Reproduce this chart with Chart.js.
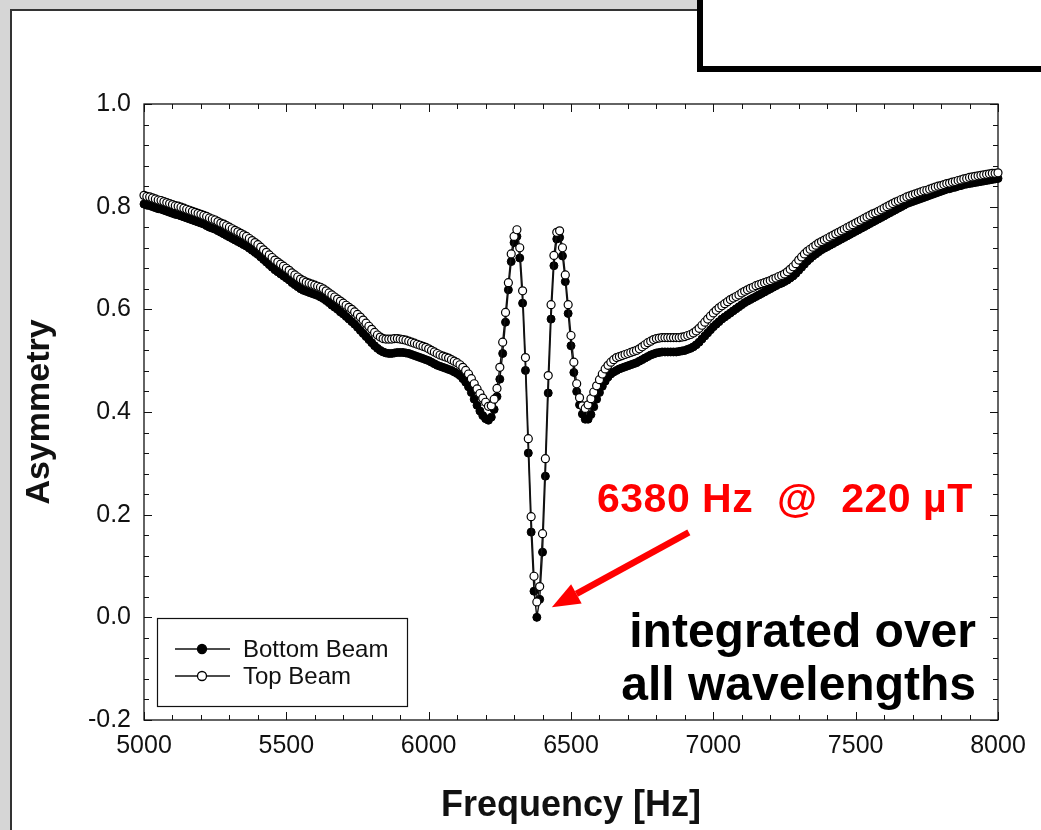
<!DOCTYPE html>
<html>
<head>
<meta charset="utf-8">
<script src="https://cdn.jsdelivr.net/npm/chart.js@4.4.1/dist/chart.umd.min.js"></script>
<style>
  html, body { margin: 0; padding: 0; }
  body {
    width: 1041px; height: 830px; position: relative; overflow: hidden;
    background: #d6d6d6;
    font-family: "Liberation Sans", Arial, sans-serif;
  }
  #panel {
    position: absolute; left: 10px; top: 9px; width: 1100px; height: 900px;
    background: #fff; border: 2px solid #333;
  }
  #infobox {
    position: absolute; left: 697px; top: -20px; width: 400px; height: 80px;
    background: #fff; border: 6px solid #000;
  }
  #chart { position: absolute; left: 0; top: 0; }
  .note { position: absolute; font-weight: bold; white-space: pre; }
  #freqNote { left: 597px; top: 478px; color: #ff0000; font-size: 41px; line-height: 41px; letter-spacing: 0.5px; }
  #intNote { right: 65px; top: 604px; color: #000; font-size: 48px; line-height: 53px; text-align: right; }
</style>
</head>
<body>
<div id="panel"></div>
<div id="infobox"></div>
<canvas id="chart" width="1041" height="830"></canvas>
<div class="note" id="freqNote">6380 Hz  @  220 µT</div>
<div class="note" id="intNote">integrated over
all wavelengths</div>
<script>
// sweep frequencies (Hz)
const frequencies = [
  5000, 5010, 5020, 5030, 5040, 5050, 5060, 5070, 5080, 5090,
  5100, 5110, 5120, 5130, 5140, 5150, 5160, 5170, 5180, 5190,
  5200, 5210, 5220, 5230, 5240, 5250, 5260, 5270, 5280, 5290,
  5300, 5310, 5320, 5330, 5340, 5350, 5360, 5370, 5380, 5390,
  5400, 5410, 5420, 5430, 5440, 5450, 5460, 5470, 5480, 5490,
  5500, 5510, 5520, 5530, 5540, 5550, 5560, 5570, 5580, 5590,
  5600, 5610, 5620, 5630, 5640, 5650, 5660, 5670, 5680, 5690,
  5700, 5710, 5720, 5730, 5740, 5750, 5760, 5770, 5780, 5790,
  5800, 5810, 5820, 5830, 5840, 5850, 5860, 5870, 5880, 5890,
  5900, 5910, 5920, 5930, 5940, 5950, 5960, 5970, 5980, 5990,
  6000, 6010, 6020, 6030, 6040, 6050, 6060, 6070, 6080, 6090,
  6100, 6110, 6120, 6130, 6140, 6150, 6160, 6170, 6180, 6190,
  6200, 6210, 6220, 6230, 6240, 6250, 6260, 6270, 6280, 6290,
  6300, 6310, 6320, 6330, 6340, 6350, 6360, 6370, 6380, 6390,
  6400, 6410, 6420, 6430, 6440, 6450, 6460, 6470, 6480, 6490,
  6500, 6510, 6520, 6530, 6540, 6550, 6560, 6570, 6580, 6590,
  6600, 6610, 6620, 6630, 6640, 6650, 6660, 6670, 6680, 6690,
  6700, 6710, 6720, 6730, 6740, 6750, 6760, 6770, 6780, 6790,
  6800, 6810, 6820, 6830, 6840, 6850, 6860, 6870, 6880, 6890,
  6900, 6910, 6920, 6930, 6940, 6950, 6960, 6970, 6980, 6990,
  7000, 7010, 7020, 7030, 7040, 7050, 7060, 7070, 7080, 7090,
  7100, 7110, 7120, 7130, 7140, 7150, 7160, 7170, 7180, 7190,
  7200, 7210, 7220, 7230, 7240, 7250, 7260, 7270, 7280, 7290,
  7300, 7310, 7320, 7330, 7340, 7350, 7360, 7370, 7380, 7390,
  7400, 7410, 7420, 7430, 7440, 7450, 7460, 7470, 7480, 7490,
  7500, 7510, 7520, 7530, 7540, 7550, 7560, 7570, 7580, 7590,
  7600, 7610, 7620, 7630, 7640, 7650, 7660, 7670, 7680, 7690,
  7700, 7710, 7720, 7730, 7740, 7750, 7760, 7770, 7780, 7790,
  7800, 7810, 7820, 7830, 7840, 7850, 7860, 7870, 7880, 7890,
  7900, 7910, 7920, 7930, 7940, 7950, 7960, 7970, 7980, 7990,
  8000
];

// asymmetry, bottom beam (filled markers)
const bottomBeam = [
  0.805, 0.803, 0.802, 0.800, 0.798, 0.796, 0.795, 0.793, 0.791, 0.789,
  0.787, 0.785, 0.784, 0.782, 0.780, 0.778, 0.776, 0.774, 0.772, 0.770,
  0.768, 0.766, 0.763, 0.760, 0.758, 0.756, 0.753, 0.750, 0.747, 0.744,
  0.741, 0.738, 0.735, 0.732, 0.729, 0.726, 0.723, 0.719, 0.715, 0.711,
  0.707, 0.702, 0.697, 0.692, 0.687, 0.682, 0.677, 0.673, 0.669, 0.665,
  0.661, 0.657, 0.652, 0.648, 0.644, 0.640, 0.637, 0.635, 0.633, 0.631,
  0.629, 0.627, 0.624, 0.621, 0.617, 0.613, 0.608, 0.604, 0.600, 0.595,
  0.591, 0.586, 0.581, 0.576, 0.571, 0.565, 0.559, 0.553, 0.547, 0.541,
  0.535, 0.529, 0.524, 0.520, 0.517, 0.515, 0.514, 0.514, 0.515, 0.516,
  0.516, 0.516, 0.515, 0.514, 0.512, 0.510, 0.508, 0.506, 0.504, 0.502,
  0.500, 0.497, 0.494, 0.491, 0.489, 0.487, 0.485, 0.483, 0.481, 0.478,
  0.475, 0.471, 0.465, 0.458, 0.449, 0.438, 0.425, 0.413, 0.402, 0.393,
  0.387, 0.384, 0.390, 0.405, 0.430, 0.464, 0.514, 0.575, 0.638, 0.693,
  0.730, 0.742, 0.700, 0.612, 0.481, 0.320, 0.166, 0.051, 0.000, 0.035,
  0.127, 0.275, 0.437, 0.581, 0.685, 0.737, 0.740, 0.704, 0.654, 0.592,
  0.529, 0.477, 0.440, 0.414, 0.396, 0.386, 0.386, 0.395, 0.410, 0.425,
  0.438, 0.450, 0.460, 0.468, 0.474, 0.478, 0.481, 0.484, 0.486, 0.488,
  0.490, 0.492, 0.494, 0.496, 0.499, 0.502, 0.505, 0.508, 0.511, 0.513,
  0.515, 0.516, 0.517, 0.517, 0.517, 0.517, 0.517, 0.517, 0.518, 0.519,
  0.520, 0.522, 0.524, 0.527, 0.531, 0.536, 0.542, 0.548, 0.554, 0.560,
  0.566, 0.571, 0.576, 0.581, 0.585, 0.589, 0.593, 0.597, 0.601, 0.605,
  0.609, 0.613, 0.616, 0.619, 0.622, 0.625, 0.628, 0.631, 0.634, 0.637,
  0.640, 0.643, 0.646, 0.649, 0.651, 0.654, 0.657, 0.661, 0.665, 0.670,
  0.676, 0.682, 0.688, 0.694, 0.699, 0.704, 0.708, 0.712, 0.716, 0.719,
  0.722, 0.725, 0.728, 0.731, 0.734, 0.737, 0.740, 0.743, 0.746, 0.749,
  0.752, 0.755, 0.758, 0.761, 0.764, 0.767, 0.770, 0.773, 0.776, 0.779,
  0.782, 0.785, 0.788, 0.791, 0.794, 0.797, 0.800, 0.803, 0.806, 0.808,
  0.810, 0.812, 0.814, 0.816, 0.818, 0.820, 0.822, 0.824, 0.826, 0.828,
  0.830, 0.832, 0.834, 0.835, 0.837, 0.838, 0.840, 0.841, 0.843, 0.844,
  0.845, 0.846, 0.847, 0.848, 0.849, 0.850, 0.851, 0.852, 0.853, 0.854,
  0.855
];

// asymmetry, top beam (open markers)
const topBeam = [
  0.822, 0.820, 0.819, 0.817, 0.815, 0.813, 0.812, 0.810, 0.808, 0.806,
  0.804, 0.802, 0.801, 0.799, 0.797, 0.795, 0.793, 0.791, 0.789, 0.787,
  0.785, 0.783, 0.781, 0.778, 0.776, 0.774, 0.771, 0.768, 0.766, 0.763,
  0.760, 0.757, 0.754, 0.751, 0.748, 0.745, 0.742, 0.738, 0.734, 0.730,
  0.726, 0.721, 0.716, 0.711, 0.706, 0.701, 0.696, 0.692, 0.688, 0.684,
  0.680, 0.676, 0.671, 0.667, 0.663, 0.659, 0.656, 0.653, 0.651, 0.649,
  0.647, 0.645, 0.643, 0.640, 0.636, 0.632, 0.628, 0.624, 0.620, 0.616,
  0.612, 0.608, 0.604, 0.600, 0.595, 0.590, 0.585, 0.579, 0.573, 0.567,
  0.561, 0.555, 0.550, 0.546, 0.543, 0.542, 0.542, 0.542, 0.543, 0.543,
  0.542, 0.541, 0.540, 0.538, 0.536, 0.534, 0.532, 0.530, 0.528, 0.526,
  0.523, 0.520, 0.517, 0.514, 0.511, 0.509, 0.507, 0.505, 0.502, 0.499,
  0.496, 0.492, 0.487, 0.481, 0.474, 0.465, 0.455, 0.445, 0.436, 0.427,
  0.419, 0.411, 0.412, 0.425, 0.446, 0.487, 0.536, 0.594, 0.652, 0.708,
  0.742, 0.755, 0.720, 0.636, 0.506, 0.348, 0.196, 0.080, 0.030, 0.060,
  0.163, 0.309, 0.471, 0.609, 0.705, 0.750, 0.753, 0.720, 0.667, 0.609,
  0.549, 0.497, 0.455, 0.428, 0.412, 0.407, 0.414, 0.426, 0.439, 0.451,
  0.463, 0.474, 0.484, 0.491, 0.497, 0.502, 0.506, 0.508, 0.510, 0.512,
  0.514, 0.516, 0.518, 0.520, 0.523, 0.527, 0.531, 0.535, 0.538, 0.541,
  0.543, 0.544, 0.545, 0.545, 0.545, 0.545, 0.545, 0.545, 0.545, 0.546,
  0.547, 0.549, 0.551, 0.554, 0.558, 0.563, 0.569, 0.575, 0.581, 0.587,
  0.593, 0.598, 0.603, 0.607, 0.611, 0.615, 0.619, 0.622, 0.625, 0.628,
  0.632, 0.635, 0.638, 0.641, 0.643, 0.646, 0.648, 0.650, 0.652, 0.654,
  0.656, 0.659, 0.661, 0.664, 0.666, 0.669, 0.673, 0.678, 0.683, 0.689,
  0.696, 0.702, 0.708, 0.713, 0.717, 0.721, 0.725, 0.729, 0.732, 0.735,
  0.738, 0.741, 0.744, 0.747, 0.750, 0.753, 0.756, 0.759, 0.762, 0.765,
  0.768, 0.771, 0.774, 0.777, 0.780, 0.783, 0.786, 0.788, 0.791, 0.794,
  0.797, 0.800, 0.803, 0.806, 0.809, 0.811, 0.814, 0.816, 0.819, 0.821,
  0.823, 0.825, 0.827, 0.829, 0.831, 0.832, 0.834, 0.836, 0.838, 0.840,
  0.841, 0.843, 0.845, 0.846, 0.848, 0.849, 0.851, 0.852, 0.854, 0.855,
  0.857, 0.858, 0.859, 0.860, 0.861, 0.862, 0.863, 0.864, 0.865, 0.865,
  0.866
];

const xTickValues = [5000, 5500, 6000, 6500, 7000, 7500, 8000];
const xTickLabels = ['5000', '5500', '6000', '6500', '7000', '7500', '8000'];
const yTickValues = [-0.2, 0.0, 0.2, 0.4, 0.6, 0.8, 1.0];
const yTickLabels = ['-0.2', '0.0', '0.2', '0.4', '0.6', '0.8', '1.0'];

// resonance marked by the arrow
const resonance = { freq: 6380, value: 0.0 };

const FONT = '"Liberation Sans", Arial, sans-serif';
const INK = '#111';

// box around the plot plus inward ticks on all four sides (SigmaPlot style)
const frameTicks = {
  id: 'frameTicks',
  beforeDatasetsDraw(chart) {
    const { ctx, chartArea: a, scales: { x, y } } = chart;
    ctx.save();
    ctx.strokeStyle = INK;
    ctx.lineWidth = 1.3;
    ctx.strokeRect(a.left, a.top, a.right - a.left, a.bottom - a.top);
    ctx.beginPath();
    for (let i = 0; i <= 30; i++) {
      const px = Math.round(x.getPixelForValue(5000 + i * 100)) + 0.5;
      const len = i % 5 === 0 ? 8 : 5;
      ctx.moveTo(px, a.bottom); ctx.lineTo(px, a.bottom - len);
      ctx.moveTo(px, a.top); ctx.lineTo(px, a.top + len);
    }
    for (let i = 0; i <= 30; i++) {
      const py = Math.round(y.getPixelForValue(-0.2 + i * 0.04)) + 0.5;
      const len = i % 5 === 0 ? 8 : 5;
      ctx.moveTo(a.left, py); ctx.lineTo(a.left + len, py);
      ctx.moveTo(a.right, py); ctx.lineTo(a.right - len, py);
    }
    ctx.lineWidth = 1;
    ctx.stroke();
    ctx.restore();
  }
};

// boxed legend in the lower-left corner of the plot
const boxLegend = {
  id: 'boxLegend',
  afterDraw(chart) {
    const { ctx, chartArea: a } = chart;
    const left = a.left + 13, top = a.bottom - 102, w = 250, h = 88;
    ctx.save();
    ctx.fillStyle = '#fff';
    ctx.fillRect(left, top, w, h);
    ctx.strokeStyle = INK;
    ctx.lineWidth = 1.2;
    ctx.strokeRect(left + 0.5, top + 0.5, w, h);
    ctx.font = '24px ' + FONT;
    ctx.textBaseline = 'middle';
    chart.data.datasets.forEach((ds, i) => {
      const cy = top + 31 + i * 27;
      ctx.beginPath();
      ctx.moveTo(left + 18, cy); ctx.lineTo(left + 73, cy);
      ctx.strokeStyle = ds.borderColor; ctx.lineWidth = 1.5; ctx.stroke();
      ctx.beginPath();
      ctx.arc(left + 45, cy, 4.5, 0, Math.PI * 2);
      ctx.fillStyle = ds.pointBackgroundColor; ctx.fill();
      ctx.lineWidth = 1.3; ctx.strokeStyle = ds.pointBorderColor; ctx.stroke();
      ctx.fillStyle = INK;
      ctx.fillText(ds.label, left + 86, cy + 1);
    });
    ctx.restore();
  }
};

// red arrow pointing at the resonance minimum
const resonanceArrow = {
  id: 'resonanceArrow',
  afterDraw(chart) {
    const { ctx, scales: { x, y } } = chart;
    const tipX = x.getPixelForValue(resonance.freq) + 15;
    const tipY = y.getPixelForValue(resonance.value) - 10;
    const tailX = tipX + 137, tailY = tipY - 75;
    const ang = Math.atan2(tailY - tipY, tailX - tipX);
    const headLen = 28, headHalf = 11;
    const bx = tipX + Math.cos(ang) * headLen, by = tipY + Math.sin(ang) * headLen;
    ctx.save();
    ctx.strokeStyle = '#ff0000';
    ctx.fillStyle = '#ff0000';
    ctx.lineWidth = 6.5;
    ctx.beginPath();
    ctx.moveTo(tailX, tailY); ctx.lineTo(bx, by);
    ctx.stroke();
    ctx.beginPath();
    ctx.moveTo(tipX, tipY);
    ctx.lineTo(bx - Math.sin(ang) * headHalf, by + Math.cos(ang) * headHalf);
    ctx.lineTo(bx + Math.sin(ang) * headHalf, by - Math.cos(ang) * headHalf);
    ctx.closePath();
    ctx.fill();
    ctx.restore();
  }
};

const toPoints = (vals) => frequencies.map((f, i) => ({ x: f, y: vals[i] }));

new Chart(document.getElementById('chart').getContext('2d'), {
  type: 'scatter',
  data: {
    datasets: [
      {
        label: 'Bottom Beam',
        data: toPoints(bottomBeam),
        showLine: true,
        borderColor: INK,
        borderWidth: 1.4,
        pointRadius: 4,
        pointBackgroundColor: '#000',
        pointBorderColor: '#000',
        pointBorderWidth: 1,
        order: 1,
        clip: false
      },
      {
        label: 'Top Beam',
        data: toPoints(topBeam),
        showLine: true,
        borderColor: INK,
        borderWidth: 1.4,
        pointRadius: 4,
        pointBackgroundColor: '#fff',
        pointBorderColor: '#000',
        pointBorderWidth: 1.2,
        order: 0,
        clip: false
      }
    ]
  },
  options: {
    responsive: false,
    animation: false,
    devicePixelRatio: 1,
    layout: { padding: { left: 0, right: 43, top: 104, bottom: 0 } },
    plugins: {
      legend: { display: false },
      tooltip: { enabled: false }
    },
    scales: {
      x: {
        type: 'linear',
        min: 5000,
        max: 8000,
        afterBuildTicks: (s) => { s.ticks = xTickValues.map(v => ({ value: v })); },
        afterFit: (s) => { s.height = 110; },
        grid: { display: false, drawTicks: false },
        border: { display: false },
        ticks: {
          padding: 11,
          color: INK,
          autoSkip: false,
          maxRotation: 0,
          font: { family: FONT, size: 25 },
          callback: (v, i) => xTickLabels[i]
        },
        title: {
          display: true,
          text: 'Frequency [Hz]',
          color: INK,
          font: { family: FONT, size: 36, weight: 'bold' },
          padding: { top: 0, bottom: 2 }
        }
      },
      y: {
        type: 'linear',
        min: -0.2,
        max: 1.0,
        afterBuildTicks: (s) => { s.ticks = yTickValues.map(v => ({ value: v })); },
        afterFit: (s) => { s.width = 144; },
        grid: { display: false, drawTicks: false },
        border: { display: false },
        ticks: {
          padding: 13,
          color: INK,
          font: { family: FONT, size: 25 },
          callback: (v, i) => yTickLabels[i]
        },
        title: {
          display: true,
          text: 'Asymmetry',
          color: INK,
          font: { family: FONT, size: 34, weight: 'bold' },
          padding: { top: 19, bottom: 0 }
        }
      }
    }
  },
  plugins: [frameTicks, boxLegend, resonanceArrow]
});
</script>
</body>
</html>
